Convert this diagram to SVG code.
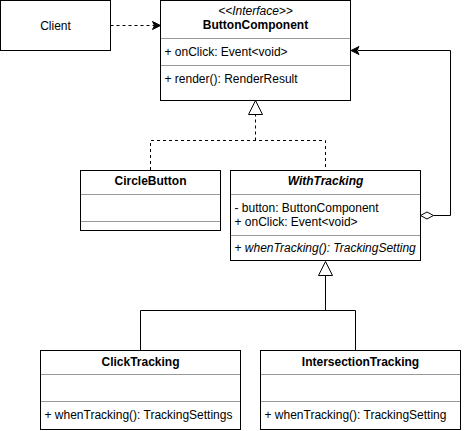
<svg xmlns="http://www.w3.org/2000/svg" width="466" height="431" viewBox="0 0 466 431">
<style>
.box{fill:#fff;stroke:#000;stroke-width:1}
.sep{stroke:#999;stroke-width:1}
text{font-family:"Liberation Sans",Arial,sans-serif;font-size:12px;fill:#000}
.t{text-anchor:middle;font-weight:bold}
.c{text-anchor:middle}
.it{font-style:italic}
.edge{fill:none;stroke:#000;stroke-width:1}
.dash{stroke-dasharray:3 3}
</style>
<rect width="466" height="431" fill="#fff"/>
<g id="edges">
  <path class="edge dash" d="M110.5,25.5 H154"/>
  <path d="M160.5,25.5 L152.5,21.5 L154.5,25.5 L152.5,29.5 Z" fill="#000" stroke="#000"/>
  <path class="edge dash" d="M150.5,170 V140.5 H325.5 V170 M255.5,140.5 V114.5"/>
  <path d="M255.5,100.5 L248.5,114.5 H262.5 Z" fill="#fff" stroke="#000"/>
  <path class="edge" d="M140.5,350 V310.5 H355.5 V350 M325.5,310.5 V275.5"/>
  <path d="M325.5,261.5 L318.5,275.5 H332.5 Z" fill="#fff" stroke="#000"/>
  <path class="edge" d="M433.5,215.5 H450.5 V50.5 H358"/>
  <path d="M420.5,215.5 L427,212 L433.5,215.5 L427,219 Z" fill="#fff" stroke="#000"/>
  <path d="M351,50.5 L359,46.5 L357,50.5 L359,54.5 Z" fill="#000" stroke="#000"/>
</g>
<g id="client">
  <rect class="box" x="0.5" y="0.5" width="110" height="50"/>
  <text class="c" x="55.5" y="29.5">Client</text>
</g>
<g id="buttonComponent">
  <rect class="box" x="160.5" y="0.5" width="190" height="100"/>
  <text class="c it" x="255.5" y="14.5">&lt;&lt;Interface&gt;&gt;</text>
  <text class="t" x="255.5" y="29">ButtonComponent</text>
  <line class="sep" x1="161" y1="38.5" x2="350" y2="38.5"/>
  <text x="164.5" y="55.5">+ onClick: Event&lt;void&gt;</text>
  <line class="sep" x1="161" y1="65.5" x2="350" y2="65.5"/>
  <text x="164.5" y="83">+ render(): RenderResult</text>
</g>
<g id="circleButton">
  <rect class="box" x="80.5" y="170.5" width="140" height="60"/>
  <text class="t" x="150.5" y="185">CircleButton</text>
  <line class="sep" x1="81" y1="194.5" x2="220" y2="194.5"/>
  <line class="sep" x1="81" y1="221.5" x2="220" y2="221.5"/>
</g>
<g id="withTracking">
  <rect class="box" x="230.5" y="170.5" width="190" height="90"/>
  <text class="t it" x="325.5" y="185">WithTracking</text>
  <line class="sep" x1="231" y1="194.5" x2="420" y2="194.5"/>
  <text x="234.5" y="212">- button: ButtonComponent</text>
  <text x="234.5" y="225.5">+ onClick: Event&lt;void&gt;</text>
  <line class="sep" x1="231" y1="235.5" x2="420" y2="235.5"/>
  <text x="234.5" y="251.5">+ <tspan class="it">whenTracking(): TrackingSetting</tspan></text>
</g>
<g id="clickTracking">
  <rect class="box" x="40.5" y="350.5" width="200" height="79"/>
  <text class="t" x="140.5" y="366">ClickTracking</text>
  <line class="sep" x1="41" y1="374.5" x2="240" y2="374.5"/>
  <line class="sep" x1="41" y1="401.5" x2="240" y2="401.5"/>
  <text x="44.5" y="419">+ whenTracking(): TrackingSettings</text>
</g>
<g id="intersectionTracking">
  <rect class="box" x="260.5" y="350.5" width="200" height="79"/>
  <text class="t" x="360.5" y="366">IntersectionTracking</text>
  <line class="sep" x1="261" y1="374.5" x2="460" y2="374.5"/>
  <line class="sep" x1="261" y1="401.5" x2="460" y2="401.5"/>
  <text x="264.5" y="419">+ whenTracking(): TrackingSetting</text>
</g>
</svg>
